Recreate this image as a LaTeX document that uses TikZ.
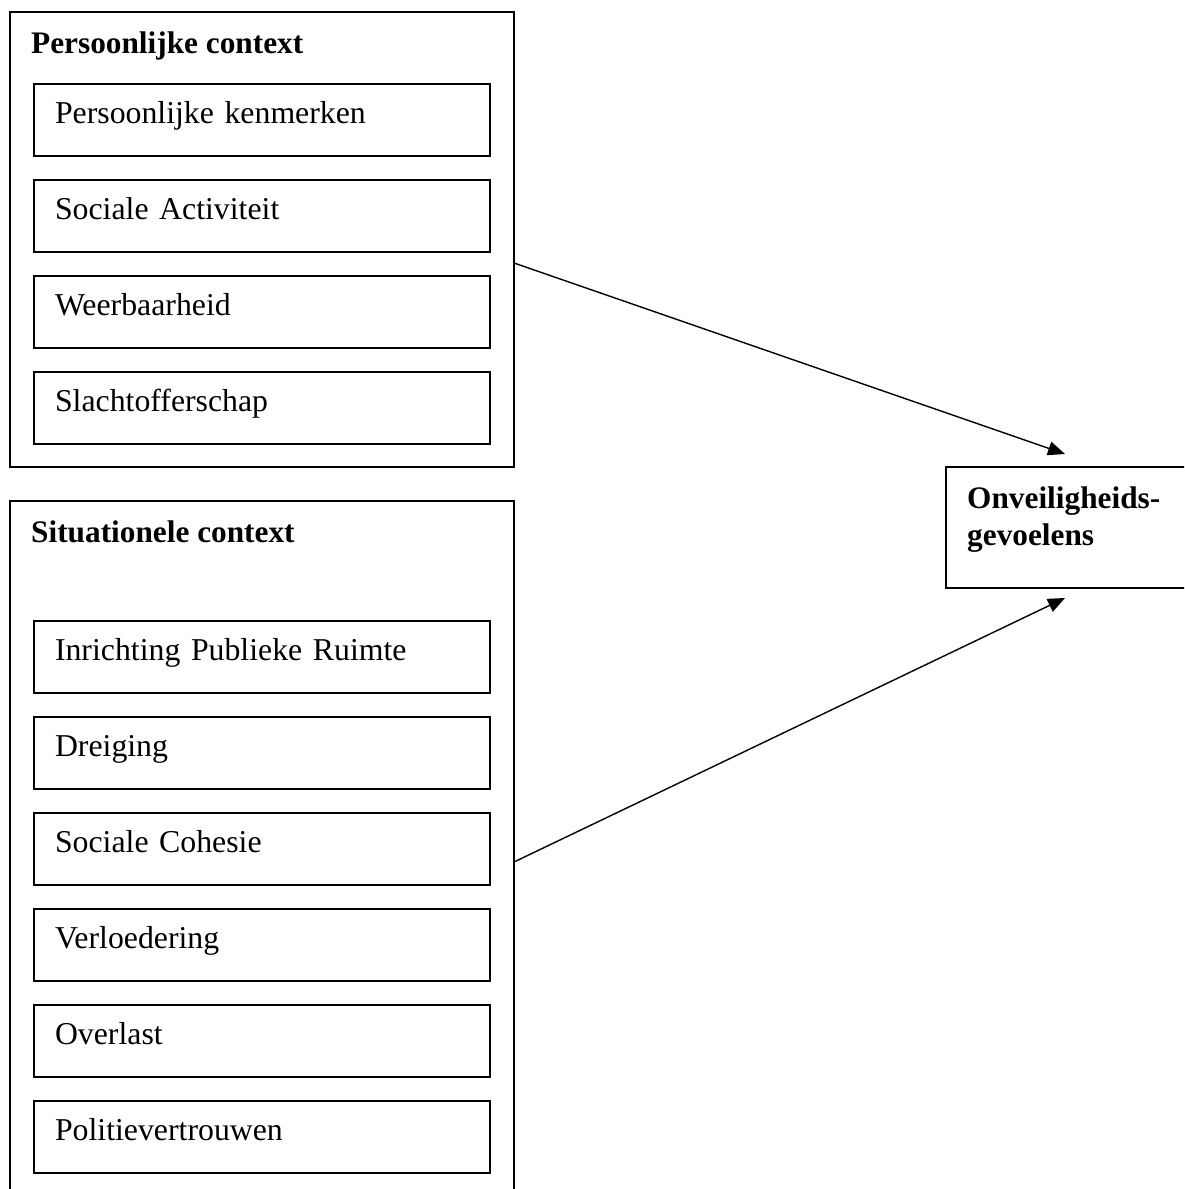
\documentclass[tikz,border=0pt]{standalone}
\usepackage{fontspec}
\setmainfont{Liberation Serif}
\usetikzlibrary{arrows.meta,calc}
\begin{document}
\begin{tikzpicture}[x=1pt,y=-1pt,
  frame/.style={draw,line width=1.7pt,anchor=north west,inner sep=0pt,outer sep=0pt},
  itembox/.style={draw,line width=1.7pt,anchor=north west,outer sep=0pt,inner xsep=21pt,inner ysep=0pt,
    text width=414pt,align=left,text height=39pt,text depth=33pt,font=\fontsize{31.8}{36}\selectfont},
  title/.style={anchor=base west,inner sep=0pt,font=\fontsize{31.3}{37}\selectfont\bfseries},
  link/.style={line width=1.4pt,-{Triangle[length=17pt,width=14pt]}}]
\useasboundingbox (0,0) rectangle (1184,1189);
\clip (0,0) rectangle (1184,1189);
\fill[white] (0,0) rectangle (1184,1189);
% Persoonlijke context
\node[frame,minimum width=504pt,minimum height=455pt] (pctx) at (10,12) {};
\node[title] (pttl) at (31,53) {Persoonlijke context};
\node[itembox] (p1) at (34,84) {Persoonlijke kenmerken};
\node[itembox] (p2) at (34,180) {Sociale Activiteit};
\node[itembox] (p3) at (34,276) {Weerbaarheid};
\node[itembox] (p4) at (34,372) {Slachtofferschap};
% Situationele context
\node[frame,minimum width=504pt,minimum height=710pt] (sctx) at (10,501) {};
\node[title] (sttl) at (31,542) {Situationele context};
\node[itembox] (s1) at (34,621) {Inrichting Publieke Ruimte};
\node[itembox] (s2) at (34,717) {Dreiging};
\node[itembox] (s3) at (34,813) {Sociale Cohesie};
\node[itembox] (s4) at (34,909) {Verloedering};
\node[itembox] (s5) at (34,1005) {Overlast};
\node[itembox] (s6) at (34,1101) {Politievertrouwen};
% Onveiligheidsgevoelens
\node[frame,minimum width=260pt,minimum height=121pt] (onv) at (946,467) {};
\node[title,text width=210pt,align=left] (onvt) at (967,508) {Onveiligheids-\\gevoelens};
% connectors
\path (pctx.north east) ++(0,251) coordinate (a1);
\path (onv.north west) ++(119,-13) coordinate (t1);
\path (sctx.north east) ++(0,361) coordinate (a2);
\path (onv.south west) ++(119,10) coordinate (t2);
\draw[link] (a1) -- (t1);
\draw[link] (a2) -- (t2);
\end{tikzpicture}
\end{document}
